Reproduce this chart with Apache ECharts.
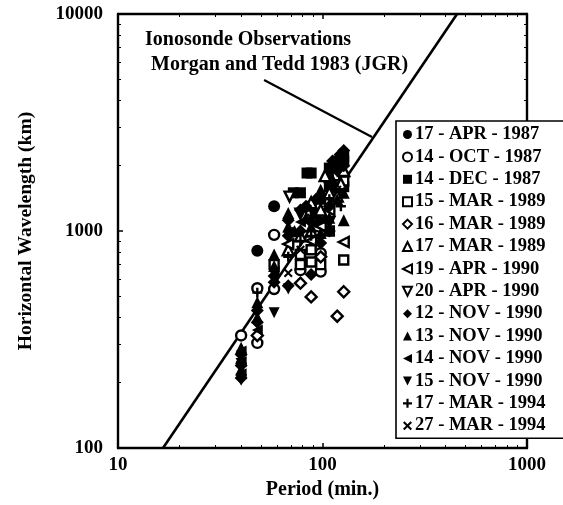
<!DOCTYPE html>
<html>
<head>
<meta charset="utf-8">
<script src="https://cdn.jsdelivr.net/npm/echarts@6/dist/echarts.min.js"></script>
<style>html,body{margin:0;padding:0;background:#fff}#c{width:563px;height:505px}</style>
</head>
<body>
<div id="c"></div>
<script>
// ---- data (period in min, horizontal wavelength in km) ----
const xTicks = [10, 100, 1000];
const yTicks = [100, 1000, 10000];
const seriesNames = ['17 - APR - 1987','14 - OCT - 1987','14 - DEC - 1987','15 - MAR - 1989','16 - MAR - 1989','17 - MAR - 1989','19 - APR - 1990','20 - APR - 1990','12 - NOV - 1990','13 - NOV - 1990','14 - NOV - 1990','15 - NOV - 1990','17 - MAR - 1994','27 - MAR - 1994'];
const apr1987_17 = [[48,810],[58,1300]];
const oct1987_14 = [[40,330],[48,305],[48,545],[58,960],[58,540],[78,660],[88,1200],[98,790],[98,650],[108,1700],[118,1700],[127,1800],[113,1450],[93,950]];
const dec1987_14 = [[78,1500],[72,1500],[88,1850],[84,1850],[88,1300],[98,1400],[98,1100],[108,1950],[108,1600],[118,2100],[118,1600],[127,2200],[127,1600],[112,1800],[122,1950],[92,1200]];
const mar1989_15 = [[58,700],[78,700],[78,780],[88,720],[88,820],[98,700],[108,1000],[118,1800],[127,735],[127,1700]];
const mar1989_16 = [[48,330],[78,575],[88,497],[98,760],[118,405],[127,525]];
const mar1989_17 = [[68,820],[78,950],[88,1000],[88,1350],[98,1250],[108,1500],[118,1450],[127,1900],[123,1650],[103,1800]];
const apr1990_19 = [[68,870],[88,900],[98,1050],[108,1250],[127,890]];
const apr1990_20 = [[69,1440],[78,1200],[108,1100]];
const nov1990_12 = [[40,210],[40,240],[40,270],[48,380],[48,430],[58,620],[58,580],[68,1120],[68,950],[68,560],[78,1250],[78,1000],[88,630],[88,1100],[98,880],[108,1300],[108,1000],[118,1900],[127,2350],[127,2000],[112,2100],[122,2250],[93,1400],[83,1300]];
const nov1990_13 = [[40,230],[40,260],[40,290],[48,470],[48,400],[58,780],[58,690],[68,1210],[68,1050],[88,1050],[98,1550],[98,980],[108,1150],[118,1400],[127,1120],[127,1500],[113,1700],[83,1150],[73,1000]];
const nov1990_14 = [[40,220],[40,250],[40,280],[48,350],[58,650],[68,990],[78,1100],[127,2100]];
const nov1990_15 = [[40,205],[40,245],[58,420],[68,540],[108,1100]];
const mar1994_17 = [[48,520],[68,760],[78,900],[88,950],[108,1400],[123,1300]];
const mar1994_27 = [[68,640],[78,820],[88,1150],[118,1550]];
const fitLine = [[16.6,100],[455,10000]];
const arrowLine = [[51.8,4965],[174.6,2710]];
const annotation = ['Ionosonde Observations','Morgan and Tedd 1983 (JGR)'];

const seriesData = [apr1987_17,oct1987_14,dec1987_14,mar1989_15,mar1989_16,mar1989_17,apr1990_19,apr1990_20,nov1990_12,nov1990_13,nov1990_14,nov1990_15,mar1994_17,mar1994_27];

const LEFT_TRI = 'path://M0,5L10,0L10,10Z';
const DOWN_TRI = 'path://M0,0L10,0L5,10Z';
const PLUS = 'path://M3.8,0H6.2V3.8H10V6.2H6.2V10H3.8V6.2H0V3.8H3.8Z';
const CROSS = 'path://M1.6,0L5,3.4L8.4,0L10,1.6L6.6,5L10,8.4L8.4,10L5,6.6L1.6,10L0,8.4L3.4,5L0,1.6Z';
// [symbol, filled, size]
const styles = [
  ['circle', true, 12],
  ['circle', false, 10],
  ['rect', true, 11],
  ['rect', false, 9],
  ['diamond', false, 11],
  ['triangle', false, 11],
  [LEFT_TRI, false, 10],
  [DOWN_TRI, false, 10],
  ['diamond', true, 13],
  ['triangle', true, 12],
  [LEFT_TRI, true, 11],
  [DOWN_TRI, true, 11],
  [PLUS, true, 10],
  [CROSS, true, 9]
];

const FONT = 'Liberation Serif';
const series = seriesNames.map((n, i) => {
  const st = styles[i];
  return {
    name: n, type: 'scatter', data: seriesData[i],
    symbol: st[0], symbolSize: st[2],
    itemStyle: st[1] ? {color: '#000', borderWidth: 0, opacity: 1}
                      : {color: '#fff', borderColor: '#000', borderWidth: 2.4, opacity: 1},
    z: 3
  };
});
series.push({
  type: 'line', data: fitLine, symbol: 'none', silent: true,
  lineStyle: {color: '#000', width: 2.6}, z: 2, clip: true
});
series.push({
  type: 'line', data: arrowLine, symbol: 'none', silent: true,
  lineStyle: {color: '#000', width: 2.2}, z: 2
});

const chart = echarts.init(document.getElementById('c'), null, {renderer: 'canvas'});
const labelFmt = v => String(Math.round(v));
const axisCommon = {
  type: 'log', logBase: 10,
  axisLine: {show: true, lineStyle: {color: '#000', width: 2.4}},
  axisTick: {show: true, inside: true, length: 5, lineStyle: {color: '#000', width: 1.5}},
  minorTick: {show: true, splitNumber: 9, length: 3, lineStyle: {color: '#000', width: 1}},
  splitLine: {show: false},
  axisLabel: {color: '#000', fontFamily: FONT, fontWeight: 'bold', fontSize: 19, formatter: labelFmt}
};
chart.setOption({
  animation: false,
  backgroundColor: '#fff',
  grid: {left: 118, right: 36, top: 14, bottom: 57, show: false},
  xAxis: [
    Object.assign({}, axisCommon, {
      min: xTicks[0], max: xTicks[xTicks.length - 1], position: 'bottom',
      name: 'Period (min.)', nameLocation: 'middle', nameGap: 29,
      nameTextStyle: {color: '#000', fontFamily: FONT, fontWeight: 'bold', fontSize: 20},
      axisLabel: Object.assign({}, axisCommon.axisLabel, {margin: 8})
    }),
    Object.assign({}, axisCommon, {
      min: xTicks[0], max: xTicks[xTicks.length - 1], position: 'top',
      axisLabel: {show: false}
    })
  ],
  yAxis: [
    Object.assign({}, axisCommon, {
      min: yTicks[0], max: yTicks[yTicks.length - 1], position: 'left',
      name: 'Horizontal Wavelength (km)', nameLocation: 'middle', nameGap: 82, nameRotate: 90,
      nameTextStyle: {color: '#000', fontFamily: FONT, fontWeight: 'bold', fontSize: 19.5},
      axisLabel: Object.assign({}, axisCommon.axisLabel, {margin: 15})
    }),
    Object.assign({}, axisCommon, {
      min: yTicks[0], max: yTicks[yTicks.length - 1], position: 'right',
      axisLabel: {show: false}
    })
  ],
  legend: {
    data: seriesNames,
    orient: 'vertical', left: 396, top: 121,
    padding: [4, 60, 3, 6],
    itemGap: 3.4, itemWidth: 9, itemHeight: 9,
    backgroundColor: '#fff',
    borderColor: '#000', borderWidth: 1.6,
    textStyle: {color: '#000', fontFamily: FONT, fontWeight: 'bold', fontSize: 18.5, padding: [0,0,0,-2]},
    selectedMode: false
  },
  graphic: [
    {type: 'text', left: 145, top: 30, style: {text: annotation[0], fill: '#000', font: 'bold 20px "Liberation Serif"'}},
    {type: 'text', left: 151, top: 55, style: {text: annotation[1], fill: '#000', font: 'bold 20px "Liberation Serif"'}}
  ],
  series: series
});
</script>
</body>
</html>
